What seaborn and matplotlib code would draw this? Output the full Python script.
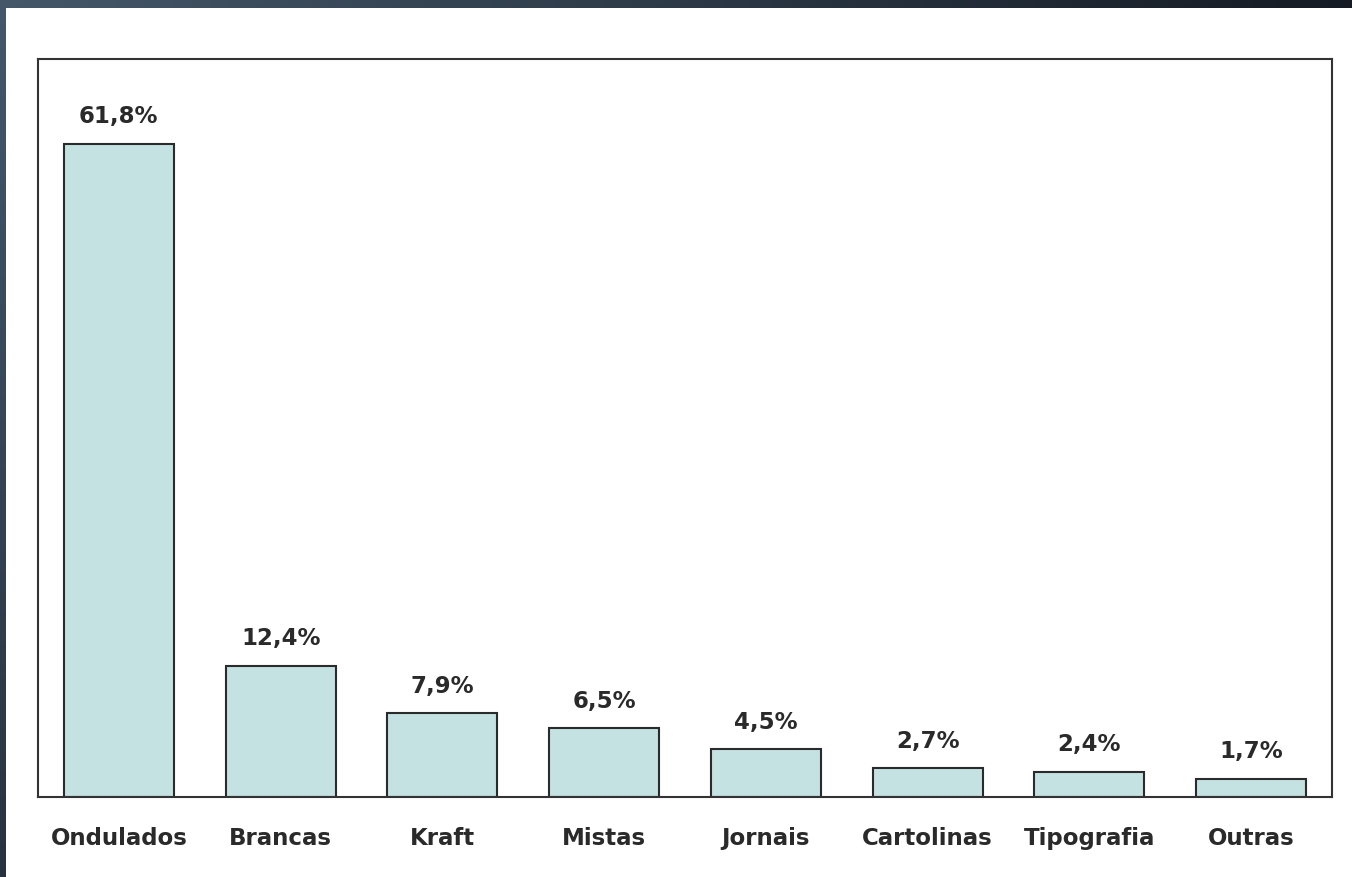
import numpy as np
import pandas as pd
import matplotlib
matplotlib.use("Agg")
import matplotlib.pyplot as plt
from matplotlib.patches import Rectangle
import seaborn as sns

# Paper recycling by type (%)
categories = ["Ondulados", "Brancas", "Kraft", "Mistas", "Jornais",
              "Cartolinas", "Tipografia", "Outras"]
values = [61.8, 12.4, 7.9, 6.5, 4.5, 2.7, 2.4, 1.7]
value_labels = ["61,8%", "12,4%", "7,9%", "6,5%", "4,5%", "2,7%", "2,4%", "1,7%"]

df = pd.DataFrame({"categoria": categories, "valor": values})

sns.set_theme(style="white")
plt.rcParams["font.family"] = ["DejaVu Sans"]

W, H = 1352, 878
fig = plt.figure(figsize=(W / 100, H / 100), dpi=100)

# Dark slate frame along the top and left edges
bg = fig.add_axes([0, 0, 1, 1], zorder=-10)
bg.set_axis_off()
xs = np.linspace(0, 1, 256)[None, :]
ys = np.linspace(0, 1, 256)[:, None]
light = np.array([68, 88, 106]) / 255
dark = np.array([16, 20, 28]) / 255
t = np.clip(0.9 * xs + 0.55 * ys, 0, 1)[..., None]
grad = light * (1 - t) + dark * t
bg.imshow(grad, extent=[0, 1, 0, 1], aspect="auto", origin="upper")
bg.set_xlim(0, 1)
bg.set_ylim(0, 1)
bg.add_patch(Rectangle((6 / W, 0), 1, 1 - 9 / H, facecolor="white",
                       edgecolor="none", zorder=2))

ax = fig.add_axes([38 / W, 1 - 798 / H, (1332 - 38) / W, (798 - 60) / H])
sns.barplot(data=df, x="categoria", y="valor", ax=ax, color="#c4e2e2",
            saturation=1, width=0.68, edgecolor="#2b2b2b", linewidth=1.5)

ax.set_xlim(-0.5, 7.5)
ax.set_ylim(0, 69.8)
ax.set_xlabel("")
ax.set_ylabel("")
ax.set_yticks([])
ax.tick_params(axis="x", length=0, pad=21)
for lbl in ax.get_xticklabels():
    lbl.set_fontsize(16.5)
    lbl.set_fontweight("bold")
    lbl.set_color("#2a2a2a")
for s in ax.spines.values():
    s.set_color("#333333")
    s.set_linewidth(1.5)

for i, (v, txt) in enumerate(zip(values, value_labels)):
    ax.annotate(txt, (i, v), xytext=(0, 12), textcoords="offset points",
                ha="center", va="bottom", fontsize=16.5, fontweight="bold",
                color="#2a2a2a")

fig.savefig("out.png", dpi=100)
